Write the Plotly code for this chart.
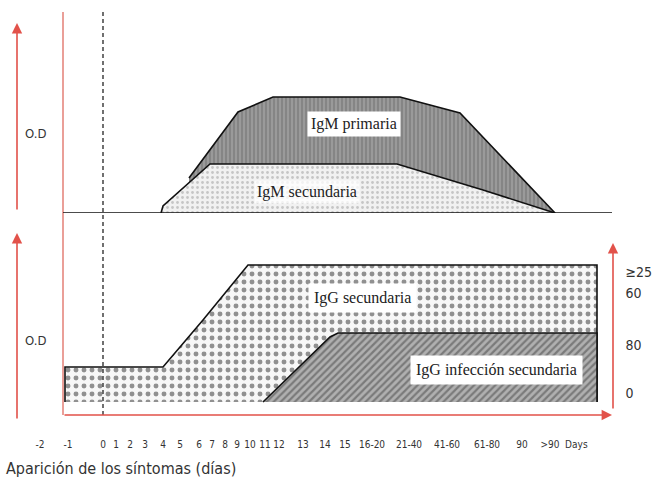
import plotly.graph_objects as go

# ---------------- data (axis units; x: schematic day axis, y: O.D.) ----------------
day_labels = ["-2", "-1", "0", "1", "2", "3", "4", "5", "6", "7", "8", "9", "10", "11", "12",
              "13", "14", "15", "16-20", "21-40", "41-60", "61-80", "90", ">90  Days"]
day_pos = [-63, -35, 0, 13, 27, 42, 60, 77, 96, 109, 122, 134, 147, 162, 176,
           200, 222, 242, 269, 306, 344, 384, 419, 461]

igm_prim_x = [86, 135, 170, 297, 357, 452, 86]
igm_prim_y = [35, 101, 116, 116, 100, 0, 0]

igm_sec_x = [58, 60, 107, 294, 380, 452]
igm_sec_y = [0, 7, 49, 49, 23, 0]

igg_sec_x = [-38, -38, 60, 100, 145, 494, 494]
igg_sec_y = [13, 48, 48, 95, 150, 150, 13]

igg_inf_x = [160, 227, 235, 494, 494]
igg_inf_y = [13, 78, 82, 82, 13]

right_labels = ["0", "80", "60", "≥25"]
right_pos = [22, 70, 122, 143]

RED = "#e2524a"
SALMON = "#e37f76"
TXT = "#333333"
SERIF = "Liberation Serif, Times New Roman, serif"
NARROW = "DejaVu Sans Condensed, Liberation Sans Narrow, Arial Narrow, sans-serif"

fig = go.Figure()

def area(x, y, yaxis, pattern):
    fig.add_trace(go.Scatter(
        x=x, y=y, yaxis=yaxis, mode="lines", fill="toself",
        line=dict(color="#111111", width=1.6),
        fillcolor=pattern["bgcolor"],
        fillpattern=pattern, hoverinfo="skip", showlegend=False))

area(igm_prim_x, igm_prim_y, "y",
     dict(shape="|", bgcolor="#9a9a9a", fgcolor="#5e5e5e", size=4, solidity=0.35))
area(igm_sec_x, igm_sec_y, "y",
     dict(shape=".", bgcolor="#f1f1f1", fgcolor="#9a9a9a", size=5, solidity=0.25))
area(igg_sec_x, igg_sec_y, "y2",
     dict(shape=".", bgcolor="#f7f7f7", fgcolor="#2a2a2a", size=8, solidity=0.3))
area(igg_inf_x, igg_inf_y, "y2",
     dict(shape="/", bgcolor="#b0b0b0", fgcolor="#444444", size=5, solidity=0.45))

# right-axis tick labels (overlaying bottom panel)
fig.add_trace(go.Scatter(x=[None], y=[None], yaxis="y3", showlegend=False, hoverinfo="skip"))

shapes = [
    # dashed day-0 line
    dict(type="line", xref="x", yref="paper", x0=0, x1=0, y0=0.1354, y1=0.975,
         line=dict(color="#111111", width=1.2, dash="4px,3px")),
    # left red frame line
    dict(type="line", xref="x", yref="paper", x0=-40, x1=-40, y0=0.1354, y1=0.975,
         line=dict(color=SALMON, width=1.5)),
    # top baseline
    dict(type="line", xref="x", yref="y", x0=-40, x1=509, y0=0, y1=0,
         line=dict(color="#111111", width=1.6)),
]

annotations = []

def arrow(x, y, ax, ay, xref, yref):
    annotations.append(dict(x=x, y=y, ax=ax, ay=ay, xref=xref, yref=yref,
                            axref=xref, ayref=yref, showarrow=True, text="",
                            arrowhead=2, arrowsize=1.3, arrowwidth=1.6, arrowcolor=RED))

arrow(-86, 190, -86, 2, "x", "y")        # top O.D arrow
arrow(-86, 182, -86, -5, "x", "y2")      # bottom O.D arrow
arrow(509, 0, -40, 0, "x", "y2")         # day axis arrow
arrow(510, 172, 510, 5, "x", "y2")       # right titre arrow

def label(text, x, y, yref, pad=3, size=16):
    annotations.append(dict(text=text, x=x, y=y, xref="x", yref=yref, showarrow=False,
                            font=dict(family=SERIF, size=size, color="#222222"),
                            bgcolor="white", borderpad=pad))

label("IgM primaria", 251, 89, "y", pad=3)
annotations.append(dict(text="IgM secundaria", x=204, y=21, xref="x", yref="y", showarrow=False,
                        font=dict(family=SERIF, size=16, color="#222222"),
                        bgcolor="rgba(255,255,255,0.75)", borderpad=2))
label("IgG secundaria", 259, 117, "y2", pad=5)
label("IgG infección secundaria", 393, 45, "y2", pad=5)

annotations.append(dict(text="O.D", x=-68, y=80, xref="x", yref="y", showarrow=False,
                        font=dict(family=NARROW, size=13, color=TXT)))
annotations.append(dict(text="O.D", x=-68, y=75, xref="x", yref="y2", showarrow=False,
                        font=dict(family=NARROW, size=13, color=TXT)))
annotations.append(dict(text="Aparición de los síntomas (días)", x=0.006, y=0.025,
                        xref="paper", yref="paper", xanchor="left", yanchor="middle",
                        showarrow=False, font=dict(family=NARROW, size=16, color=TXT)))

fig.update_layout(
    width=663, height=480, autosize=False,
    margin=dict(l=0, r=0, t=0, b=0),
    paper_bgcolor="white", plot_bgcolor="white",
    xaxis=dict(range=[-103, 560], domain=[0, 1], anchor="free", position=0.09,
               tickvals=day_pos, ticktext=day_labels, ticks="", showgrid=False,
               zeroline=False, showline=False, automargin=False,
               tickfont=dict(family=NARROW, size=10, color="#333333")),
    yaxis=dict(range=[0, 213], domain=[0.55625, 1], visible=False, fixedrange=True),
    yaxis2=dict(range=[-65, 185], domain=[0, 0.5208], visible=False, anchor="x"),
    yaxis3=dict(range=[-65, 185], domain=[0, 0.5208], overlaying="y2", side="right",
                anchor="free", position=0.942, tickvals=right_pos, ticktext=right_labels,
                ticks="", showgrid=False, zeroline=False, showline=False, automargin=False,
                tickfont=dict(family=NARROW, size=14, color=TXT)),
    shapes=shapes, annotations=annotations,
)

fig.write_html("out.html", config={"displayModeBar": False},
               post_script="document.body.style.margin='0px';")
